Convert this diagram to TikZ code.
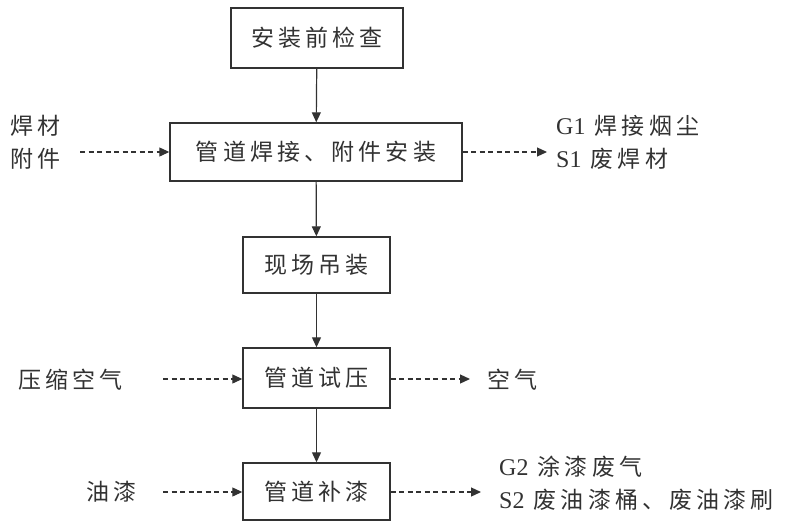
\documentclass[tikz,border=0pt]{standalone}
\usepackage{fontspec}
\setmainfont{Liberation Serif}
\newfontfamily\cjk[LetterSpace=18]{Noto Sans CJK SC}
\usetikzlibrary{arrows.meta}
\definecolor{ink}{RGB}{50,50,50}
\tikzset{
  procbox/.style={draw=ink, line width=1.4pt, minimum height=58pt, inner sep=0pt, font=\fontsize{23}{26}\selectfont\cjk, text=ink},
  flow/.style={draw=ink, line width=1.2pt, -{Triangle[length=10pt,width=9pt]}},
  side/.style={draw=ink, line width=1.2pt, dash pattern=on 5pt off 3.5pt, -{Triangle[length=10pt,width=9pt]}},
  lbl/.style={font=\fontsize{23}{33}\selectfont\cjk, text=ink, inner sep=0pt, align=left},
}
\newcommand{\lat}[1]{{\rmfamily\fontsize{24}{33}\selectfont #1}}
\begin{document}
\begin{tikzpicture}[x=1pt,y=-1pt]
\useasboundingbox (0,0) rectangle (786,522);
\node[procbox, minimum width=172pt, minimum height=60pt] (b1) at (317,38) {安装前检查};
\node[procbox, minimum width=292pt] (b2) at (316,152) {管道焊接、附件安装};
\node[procbox, minimum width=147pt, minimum height=56pt] (b3) at (316.5,265) {现场吊装};
\node[procbox, minimum width=147pt, minimum height=60pt] (b4) at (316.5,378) {管道试压};
\node[procbox, minimum width=147pt, minimum height=57pt] (b5) at (316.5,491.5) {管道补漆};
\draw[flow] (b1) -- (b2);
\draw[flow] (b2) -- (b3);
\draw[flow] (b3) -- (b4);
\draw[flow] (b4) -- (b5);
% inputs
\node[lbl, anchor=west] (i1) at (10,142) {焊材\\附件};
\node[lbl, anchor=west] (i2) at (18,380) {压缩空气};
\node[lbl, anchor=west] (i3) at (86,492) {油漆};
\coordinate (i1e) at (80,152);
\coordinate (i2e) at (163,379);
\coordinate (i3e) at (163,492);
\draw[side] (i1e) -- (b2.west |- i1e);
\draw[side] (i2e) -- (b4.west |- i2e);
\draw[side] (i3e) -- (b5.west |- i3e);
% outputs
\node[lbl, anchor=west] (o1) at (556,142) {\lat{G1} 焊接烟尘\\\lat{S1} 废焊材};
\node[lbl, anchor=west] (o2) at (487,380) {空气};
\node[lbl, anchor=west] (o3) at (499,483) {\lat{G2} 涂漆废气\\\lat{S2} 废油漆桶、废油漆刷};
\draw[side] (b2.east |- 0,152) -- (547,152);
\draw[side] (b4.east |- 0,379) -- (470,379);
\draw[side] (b5.east |- 0,492) -- (481,492);
\end{tikzpicture}
\end{document}
